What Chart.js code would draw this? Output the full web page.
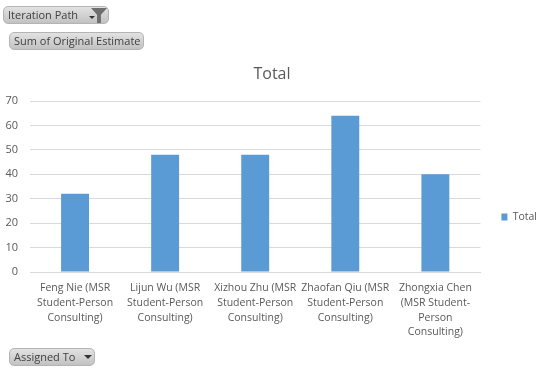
<!DOCTYPE html>
<html><head><meta charset="utf-8">
<style>
html,body{margin:0;padding:0;background:#fff;width:549px;height:374px;overflow:hidden}
#wrap{position:relative;width:549px;height:374px}
canvas{position:absolute;left:0;top:0}
.btn{position:absolute;box-sizing:border-box;height:18px;line-height:16px;border:1px solid #b4b4b4;border-radius:5px;
background:linear-gradient(#e2e2e2,#c2c2c2);font:11px "Open Sans",sans-serif;color:#404040;padding-left:4px;white-space:nowrap}
.arrow{position:absolute;width:0;height:0;border-left:4px solid transparent;border-right:4px solid transparent;border-top:4px solid #333}
.funnel{position:absolute;width:16px;height:15px;background:#6e6e6e;clip-path:polygon(0 0,100% 0,62% 45%,62% 100%,38% 100%,38% 45%)}
</style></head><body>
<div id="wrap">
<canvas id="c" width="549" height="374"></canvas>
<div class="btn" style="left:3px;top:6px;width:106px">Iteration Path<span class="arrow" style="left:85px;top:9px;border-left-width:3px;border-right-width:3px;border-top-width:3px"></span><span class="funnel" style="left:87px;top:1px"></span></div>
<div class="btn" style="left:9px;top:32px;width:135px">Sum of Original Estimate</div>
<div class="btn" style="left:9px;top:348px;width:86px">Assigned To<span class="arrow" style="left:74px;top:6px"></span></div>
</div>
<script src="https://cdn.jsdelivr.net/npm/chart.js@4"></script>
<script>
const categories = [
  ["Feng Nie (MSR","Student-Person","Consulting)"],
  ["Lijun Wu (MSR","Student-Person","Consulting)"],
  ["Xizhou Zhu (MSR","Student-Person","Consulting)"],
  ["Zhaofan Qiu (MSR","Student-Person","Consulting)"],
  ["Zhongxia Chen","(MSR Student-","Person","Consulting)"]
];
const totals = [32, 48, 48, 64, 40];
const seriesName = "Total";
const chartTitle = "Total";
const FONT = '"Open Sans", sans-serif';
const moveBoxes = {
  id: 'moveBoxes',
  afterLayout(chart) {
    const l = chart.legend;
    l.left += 15; l.right += 15; l.top += 14; l.bottom += 14;
    const t = chart.titleBlock;
    t.left += 4; t.right += 4;
  }
};
new Chart(document.getElementById('c'), {
  type: 'bar',
  plugins: [moveBoxes],
  data: { labels: categories, datasets: [{ label: seriesName, data: totals, backgroundColor: '#5b9bd5', barPercentage: 0.31, categoryPercentage: 1 }] },
  options: {
    responsive: false, animation: false,
    layout: { autoPadding: false, padding: { top: 65, right: 17, bottom: 33, left: 4 } },
    plugins: {
      title: { display: true, text: chartTitle, color: '#595959', font: { family: FONT, size: 16, weight: 'normal' }, padding: { top: 0, bottom: 16.8 } },
      legend: { position: 'right', labels: { color: '#595959', font: { family: FONT, size: 10.5 }, boxWidth: 6, boxHeight: 7, padding: 6 } },
      tooltip: { enabled: false }
    },
    scales: {
      x: { grid: { display: false }, border: { color: '#d9d9d9' },
           afterFit(s) { s.height = 69; },
           ticks: { color: '#595959', font: { family: FONT, size: 10.5, lineHeight: 1.4 }, maxRotation: 0, autoSkip: false, padding: 1 } },
      y: { min: 0, max: 70, grid: { color: '#d9d9d9', drawTicks: false }, border: { display: false },
           afterFit(s) { s.width = 26; },
           ticks: { stepSize: 10, color: '#595959', font: { family: FONT, size: 11 }, padding: 12 } }
    }
  }
});
</script>
</body></html>
